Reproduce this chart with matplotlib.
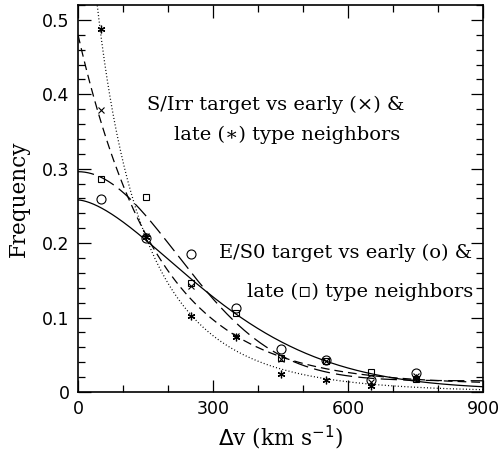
import numpy as np
import matplotlib
matplotlib.use('Agg')
import matplotlib.pyplot as plt
from matplotlib.ticker import MultipleLocator

# velocity bins (km/s) and measured frequencies
dv = [50, 150, 250, 350, 450, 550, 650, 750]
es0_early = [0.259, 0.207, 0.185, 0.113, 0.058, 0.043, 0.016, 0.025]   # circles
es0_late = [0.286, 0.262, 0.147, 0.106, 0.045, 0.042, 0.027, 0.017]    # squares
sirr_early = [0.379, 0.209, 0.142, 0.075, 0.044, 0.042, 0.014, 0.021]  # crosses
sirr_late = [0.4875, 0.208, 0.102, 0.074, 0.024, 0.016, 0.0085, 0.019] # asterisks

# fit parameters: f(v) = A*exp(-(v/s)**p) + C
fit_es0_early = (0.255, 370.0, 1.6, 0.003)
fit_es0_late = (0.281, 310.0, 2.0, 0.015)
fit_sirr_early = (0.47, 178.0, 1.0, 0.01)
fit_sirr_late = (0.93, 88.0, 0.75, 0.0)


def model(v, pars):
    A, s, p, C = pars
    return A * np.exp(-(v / s) ** p) + C


serif = ['DejaVu Serif', 'DejaVu Sans']

fig = plt.figure(figsize=(5.01, 4.53), dpi=100)
ax = fig.add_axes([0.1557, 0.1347, 0.8084, 0.8543])

v = np.linspace(0, 900, 600)
ax.plot(v, model(v, fit_es0_early), color='k', lw=0.9, ls='-')
ax.plot(v, model(v, fit_es0_late), color='k', lw=0.9, ls=(0, (13, 5)))
ax.plot(v, model(v, fit_sirr_early), color='k', lw=0.9, ls=(0, (7, 4)))
ax.plot(v, model(v, fit_sirr_late), color='k', lw=0.9, ls=(0, (0.8, 1.8)))

ax.plot(dv, es0_early, ls='none', marker='o', ms=6.5, mfc='none', mec='k', mew=0.8)
ax.plot(dv, es0_late, ls='none', marker='s', ms=4.8, mfc='none', mec='k', mew=0.8)
ax.plot(dv, sirr_early, ls='none', marker='x', ms=4.8, color='k', mew=0.8)
ax.plot(dv, sirr_late, ls='none', marker=(6, 2, 0), ms=5.5, color='k', mew=0.9)

ax.set_xlim(0, 900)
ax.set_ylim(0, 0.52)
ax.xaxis.set_minor_locator(MultipleLocator(100))
ax.yaxis.set_minor_locator(MultipleLocator(0.02))
ax.set_xticks([0, 300, 600, 900])
ax.set_xticklabels(['0', '300', '600', '900'])
ax.set_yticks([0, 0.1, 0.2, 0.3, 0.4, 0.5])
ax.set_yticklabels(['0', '0.1', '0.2', '0.3', '0.4', '0.5'])
ax.tick_params(which='both', direction='in', top=True, right=True, width=0.9,
               labelsize=12.5, pad=6)
ax.tick_params(which='major', length=9)
ax.tick_params(which='minor', length=5)
for sp in ax.spines.values():
    sp.set_linewidth(1.2)

ax.set_xlabel(r'$\Delta$v (km s$^{-1}$)', family=serif, fontsize=15.5, labelpad=4)
ax.set_ylabel('Frequency', family=serif, fontsize=15.5, labelpad=9)

kw = dict(transform=ax.transAxes, family=serif, fontsize=14, va='center', ha='center')
ax.text(0.489, 0.742, 'S/Irr target vs early (\u00d7) &', **kw)
ax.text(0.517, 0.664, 'late (\u2217) type neighbors', **kw)
ax.text(0.660, 0.359, 'E/S0 target vs early (o) &', **kw)
ax.text(0.696, 0.258, 'late (\u25ab) type neighbors', **kw)

fig.savefig('out.png', dpi=100)
